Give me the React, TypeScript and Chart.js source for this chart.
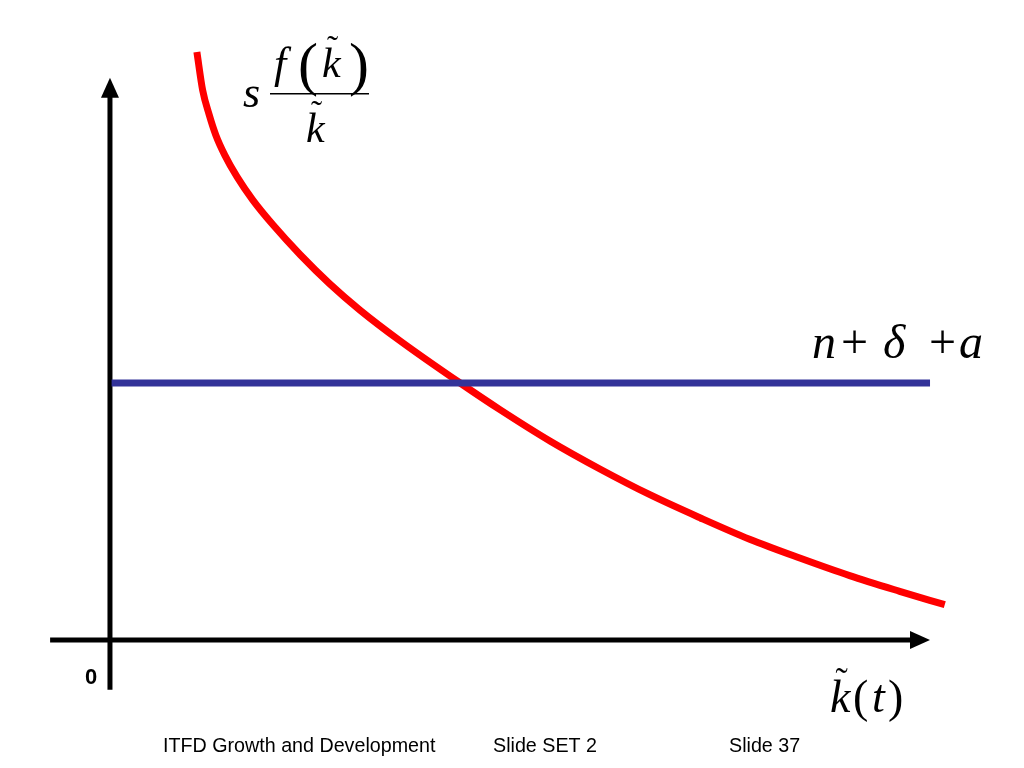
import React, { useEffect, useRef } from "react";
import { Chart, registerables } from "chart.js";

Chart.register(...registerables);

// Data space: origin of the drawn axes is (0,0)
const X_MIN = -1.341;
const X_MAX = 11.146;
const Y_MIN = -2.286;
const Y_MAX = 11.43;

// Savings curve s f(k)/k
const curveX = [1.06, 1.13, 1.21, 1.29, 1.4, 1.55, 1.74, 1.99, 2.32, 2.68, 3.05, 3.54, 4.27, 4.76, 5.37, 5.98, 6.59, 7.2, 7.8, 8.42, 9.02, 9.63, 10.18];
const curveY = [10.5, 9.82, 9.38, 9.02, 8.66, 8.27, 7.86, 7.41, 6.88, 6.36, 5.89, 5.34, 4.59, 4.11, 3.55, 3.05, 2.59, 2.18, 1.8, 1.46, 1.15, 0.87, 0.63];

// Break-even line n + delta + a
const lineX = [0.02, 10.0];
const lineY = [4.59, 4.59];

// Axis extents
const xAxisStart = -0.73;
const xAxisEnd = 10.0;
const yAxisStart = -0.89;
const yAxisEnd = 10.04;

const footerTexts = ["ITFD Growth and Development", "Slide SET 2", "Slide 37"];
const originLabel = "0";

const SERIF = '"Liberation Serif", "Times New Roman", serif';
const SANS = '"Liberation Sans", Arial, sans-serif';

function drawKTilde(ctx: CanvasRenderingContext2D, x: number, baseline: number, size: number) {
  ctx.font = `italic ${size}px ${SERIF}`;
  ctx.fillText("k", x, baseline);
  ctx.font = `${size * 0.8}px ${SERIF}`;
  ctx.fillText("\u02DC", x + size * 0.12, baseline - size * 0.42);
}

const overlayPlugin = {
  id: "overlay",
  beforeDatasetsDraw(chart: any) {
    const ctx: CanvasRenderingContext2D = chart.ctx;
    const xs = chart.scales.x;
    const ys = chart.scales.y;
    const x0 = xs.getPixelForValue(0);
    const y0 = ys.getPixelForValue(0);
    ctx.save();
    ctx.strokeStyle = "#000";
    ctx.fillStyle = "#000";
    ctx.lineWidth = 5;
    // x axis
    const xe = xs.getPixelForValue(xAxisEnd);
    ctx.beginPath();
    ctx.moveTo(xs.getPixelForValue(xAxisStart), y0);
    ctx.lineTo(xe - 16, y0);
    ctx.stroke();
    ctx.beginPath();
    ctx.moveTo(xe, y0);
    ctx.lineTo(xe - 20, y0 - 9);
    ctx.lineTo(xe - 20, y0 + 9);
    ctx.closePath();
    ctx.fill();
    // y axis
    const yt = ys.getPixelForValue(yAxisEnd);
    ctx.beginPath();
    ctx.moveTo(x0, ys.getPixelForValue(yAxisStart));
    ctx.lineTo(x0, yt + 16);
    ctx.stroke();
    ctx.beginPath();
    ctx.moveTo(x0, yt);
    ctx.lineTo(x0 - 9, yt + 20);
    ctx.lineTo(x0 + 9, yt + 20);
    ctx.closePath();
    ctx.fill();
    ctx.restore();
  },
  afterDatasetsDraw(chart: any) {
    const ctx: CanvasRenderingContext2D = chart.ctx;
    ctx.save();
    ctx.fillStyle = "#000";
    ctx.textBaseline = "alphabetic";
    ctx.textAlign = "left";

    // origin label
    ctx.font = `bold 22px ${SANS}`;
    ctx.fillText(originLabel, 85, 684);

    // s f(k)/k label
    ctx.font = `italic 44px ${SERIF}`;
    ctx.fillText("s", 243, 107);
    ctx.fillText("f", 274, 78);
    ctx.font = `60px ${SERIF}`;
    ctx.fillText("(", 298, 84);
    drawKTilde(ctx, 322, 77, 42);
    ctx.font = `60px ${SERIF}`;
    ctx.fillText(")", 349, 84);
    ctx.fillRect(270, 93, 99, 1.5);
    drawKTilde(ctx, 306, 142, 42);

    // n + delta + a
    ctx.font = `italic 48px ${SERIF}`;
    ctx.fillText("n", 812, 358);
    ctx.font = `48px ${SERIF}`;
    ctx.fillText("+", 841, 358);
    ctx.font = `italic 48px ${SERIF}`;
    ctx.fillText("\u03B4", 883, 358);
    ctx.font = `48px ${SERIF}`;
    ctx.fillText("+", 929, 358);
    ctx.font = `italic 48px ${SERIF}`;
    ctx.fillText("a", 959, 358);

    // k(t)
    drawKTilde(ctx, 830, 712, 46);
    ctx.font = `46px ${SERIF}`;
    ctx.fillText("(", 853, 712);
    ctx.font = `italic 46px ${SERIF}`;
    ctx.fillText("t", 872, 712);
    ctx.font = `46px ${SERIF}`;
    ctx.fillText(")", 888, 712);

    // footer
    ctx.font = `19.7px ${SANS}`;
    ctx.fillText(footerTexts[0], 163, 752);
    ctx.fillText(footerTexts[1], 493, 752);
    ctx.fillText(footerTexts[2], 729, 752);
    ctx.restore();
  },
};

export default function App() {
  const ref = useRef<HTMLCanvasElement | null>(null);
  useEffect(() => {
    if (!ref.current) return;
    const chart = new Chart(ref.current, {
      type: "line",
      data: {
        datasets: [
          {
            label: "n+δ+a",
            data: lineX.map((x, i) => ({ x, y: lineY[i] })),
            borderColor: "#333399",
            borderWidth: 7,
            pointRadius: 0,
            fill: false,
            clip: false as any,
          },
          {
            label: "s f(k)/k",
            data: curveX.map((x, i) => ({ x, y: curveY[i] })),
            borderColor: "#ff0000",
            borderWidth: 7,
            pointRadius: 0,
            fill: false,
            cubicInterpolationMode: "monotone",
            clip: false as any,
          },
        ],
      },
      options: {
        animation: false,
        responsive: false,
        layout: { padding: 0 },
        plugins: { legend: { display: false }, tooltip: { enabled: false } },
        scales: {
          x: { type: "linear", min: X_MIN, max: X_MAX, display: false },
          y: { type: "linear", min: Y_MIN, max: Y_MAX, display: false },
        },
      },
      plugins: [overlayPlugin],
    });
    return () => chart.destroy();
  }, []);
  return (
    <div style={{ position: "fixed", left: 0, top: 0, width: 1024, height: 768, background: "#fff" }}>
      <canvas ref={ref} width={1024} height={768} />
    </div>
  );
}
